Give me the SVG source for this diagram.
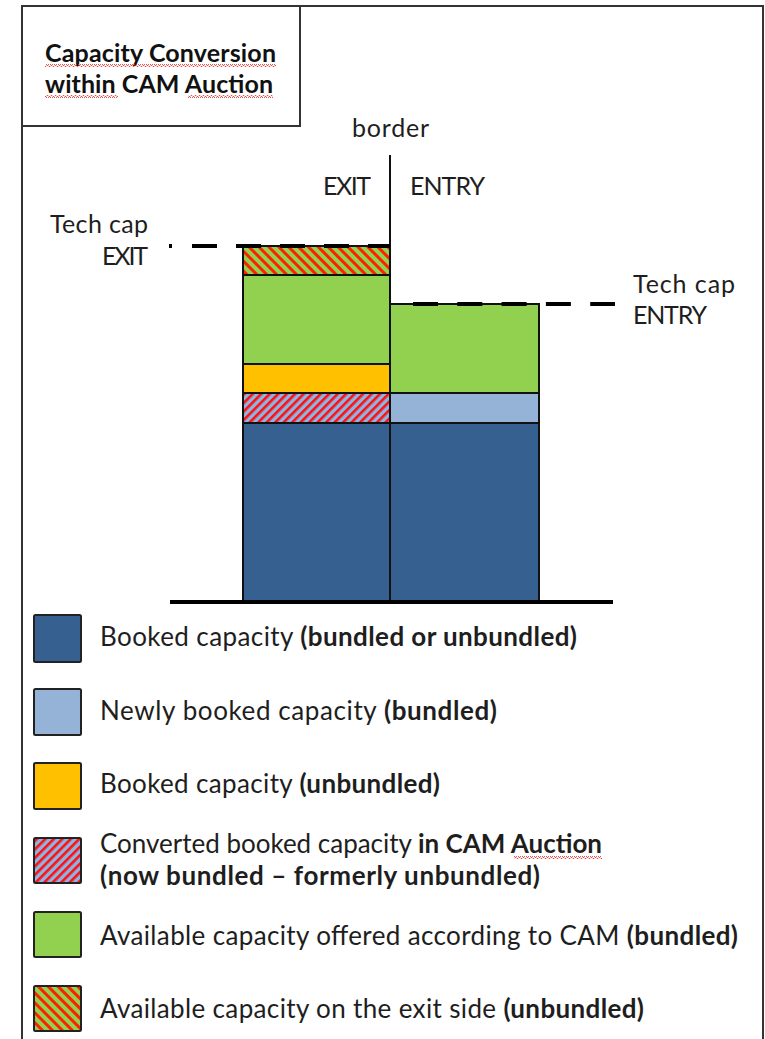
<svg xmlns="http://www.w3.org/2000/svg" width="765" height="1039" viewBox="0 0 765 1039">
  <style>
    .t { font-family: Lato, "Open Sans", "Liberation Sans", sans-serif; font-size: 26px; fill: #1e1e1e; }
    .l { font-family: Lato, "Open Sans", "Liberation Sans", sans-serif; font-size: 25px; fill: #1e1e1e; }
    .b { font-weight: bold; }
    .title { font-family: Lato, "Open Sans", "Liberation Sans", sans-serif; font-size: 25px; font-weight: bold; fill: #111; }
    .seg { stroke: #111; stroke-width: 2; }
    .sw { stroke: #222; stroke-width: 2; }
    .frame { fill: none; stroke: #333; stroke-width: 2; }
    .dash { stroke: #000; stroke-width: 4; fill: none; }
  </style>
  <defs>
    <pattern id="hatchRB" patternUnits="userSpaceOnUse" width="6" height="10" patternTransform="rotate(45)">
      <rect x="0" y="0" width="6" height="10" fill="#8DB4E2"/>
      <rect x="0" y="0" width="2.6" height="10" fill="#FF1010"/>
    </pattern>
    <pattern id="hatchGR" patternUnits="userSpaceOnUse" width="7" height="10" patternTransform="rotate(-45)">
      <rect x="0" y="0" width="7" height="10" fill="#92D050"/>
      <rect x="0" y="0" width="3" height="10" fill="#FF2000"/>
    </pattern>
    <pattern id="squig" patternUnits="userSpaceOnUse" width="4" height="3">
      <polyline points="0,2.5 1,0.5 2,0.5 3,2.5 4,2.5" fill="none" stroke="#E03030" stroke-width="0.8"/>
    </pattern>
  </defs>

  <!-- frame -->
  <g id="frame">
    <path class="frame" d="M22,1039 V6 H763 V1039"/>
  </g>

  <!-- title box -->
  <g id="title">
    <rect class="frame" x="22" y="6" width="278" height="120"/>
    <text class="title" x="45" y="62" textLength="231">Capacity Conversion</text>
    <text class="title" x="45" y="93" textLength="228">within CAM Auction</text>
    <rect x="45" y="64" width="231" height="3" fill="url(#squig)"/>
    <rect x="45" y="95" width="73" height="3" fill="url(#squig)"/>
    <rect x="188" y="95" width="85" height="3" fill="url(#squig)"/>
  </g>

  <!-- exit bar -->
  <g id="exit-bar">
    <rect class="seg" x="243" y="423" width="147" height="179" fill="#36608F"/>
    <rect class="seg" x="243" y="393" width="147" height="30" fill="url(#hatchRB)"/>
    <rect class="seg" x="243" y="364" width="147" height="29" fill="#FFC000"/>
    <rect class="seg" x="243" y="275" width="147" height="89" fill="#92D050"/>
    <rect class="seg" x="243" y="246" width="147" height="29" fill="url(#hatchGR)"/>
  </g>

  <!-- entry bar -->
  <g id="entry-bar">
    <rect class="seg" x="390" y="423" width="149" height="179" fill="#36608F"/>
    <rect class="seg" x="390" y="393" width="149" height="30" fill="#95B3D7"/>
    <rect class="seg" x="390" y="304" width="149" height="89" fill="#92D050"/>
  </g>

  <!-- lines -->
  <g id="connectors">
    <line x1="390" y1="155" x2="390" y2="602" stroke="#111" stroke-width="2"/>
    <line x1="170" y1="602" x2="613" y2="602" stroke="#000" stroke-width="4"/>
    <line class="dash" x1="169" y1="246" x2="172" y2="246" stroke-width="3"/>
    <line class="dash" x1="192" y1="246" x2="390" y2="246" stroke-dasharray="25 19"/>
    <line class="dash" x1="413" y1="304" x2="615" y2="304" stroke-dasharray="25 19.3"/>
  </g>

  <!-- labels -->
  <g id="label-border"><text class="l" x="352" y="137" textLength="77">border</text></g>
  <g id="label-exit"><text class="l" x="323" y="195" textLength="48">EXIT</text></g>
  <g id="label-entry"><text class="l" x="410" y="195" textLength="75">ENTRY</text></g>
  <g id="label-techcap-exit">
    <text class="l" x="50" y="233" textLength="98">Tech cap</text>
    <text class="l" x="102" y="265" textLength="46">EXIT</text>
  </g>
  <g id="label-techcap-entry">
    <text class="l" x="633" y="293" textLength="102">Tech cap</text>
    <text class="l" x="633" y="324" textLength="74">ENTRY</text>
  </g>

  <!-- legend -->
  <g id="legend-booked">
    <rect class="sw" x="34" y="615" width="47" height="47" rx="1.5" fill="#36608F"/>
    <text class="t" x="100" y="646" textLength="477">Booked capacity <tspan class="b">(bundled or unbundled)</tspan></text>
  </g>
  <g id="legend-newly">
    <rect class="sw" x="34" y="689" width="47" height="46" rx="1.5" fill="#95B3D7"/>
    <text class="t" x="100" y="720" textLength="397">Newly booked capacity <tspan class="b">(bundled)</tspan></text>
  </g>
  <g id="legend-unbundled">
    <rect class="sw" x="34" y="763" width="47" height="46" rx="1.5" fill="#FFC000"/>
    <text class="t" x="100" y="793" textLength="340">Booked capacity <tspan class="b">(unbundled)</tspan></text>
  </g>
  <g id="legend-converted">
    <rect class="sw" x="34" y="838" width="47" height="45" rx="1.5" fill="url(#hatchRB)"/>
    <text class="t" x="100" y="853" textLength="502">Converted booked capacity <tspan class="b">in CAM Auction</tspan></text>
    <text class="t b" x="100" y="885" textLength="440">(now bundled – formerly unbundled)</text>
    <rect x="514" y="856" width="88" height="3" fill="url(#squig)"/>
  </g>
  <g id="legend-available">
    <rect class="sw" x="34" y="912" width="47" height="45" rx="1.5" fill="#92D050"/>
    <text class="t" x="100" y="945" textLength="638">Available capacity offered according to CAM <tspan class="b">(bundled)</tspan></text>
  </g>
  <g id="legend-exitside">
    <rect class="sw" x="34" y="986" width="47" height="45" rx="1.5" fill="url(#hatchGR)"/>
    <text class="t" x="100" y="1018" textLength="544">Available capacity on the exit side <tspan class="b">(unbundled)</tspan></text>
  </g>
</svg>
